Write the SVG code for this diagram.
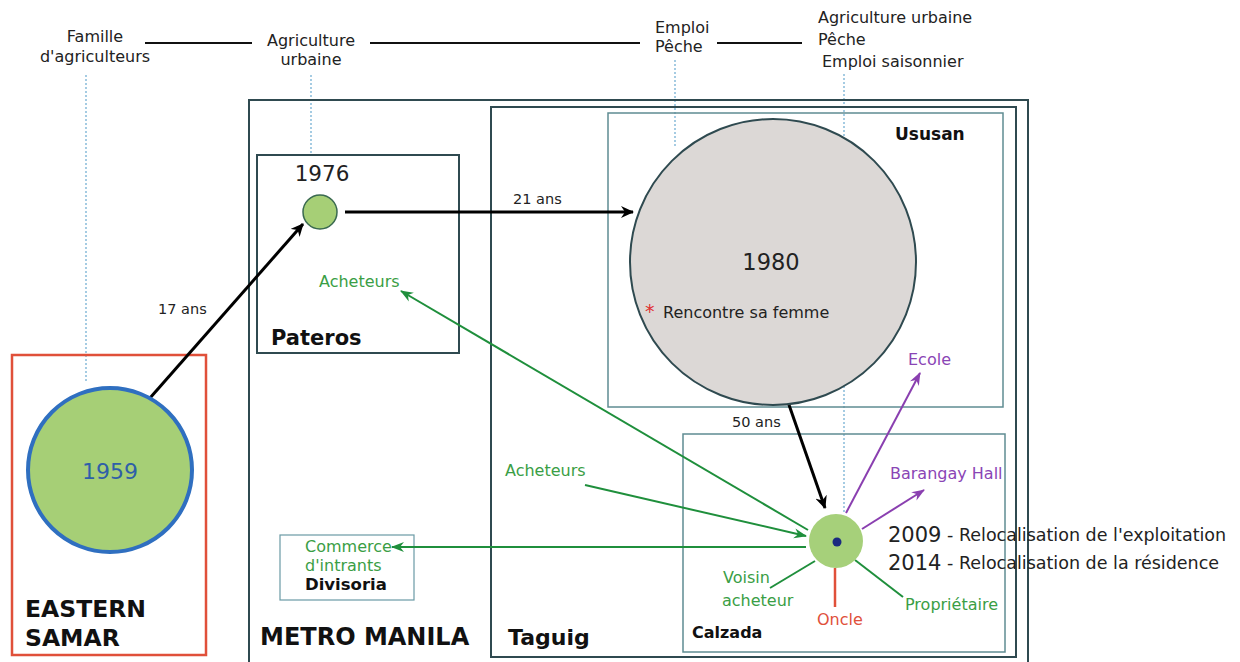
<svg xmlns="http://www.w3.org/2000/svg" width="1240" height="662" viewBox="0 0 1240 662">
<defs>
<marker id="ab" markerWidth="14" markerHeight="12" refX="12" refY="6" orient="auto" markerUnits="userSpaceOnUse"><path d="M0,0 L13,6 L0,12 L4,6 Z" fill="#000"/></marker>
<marker id="ag" markerWidth="14" markerHeight="12" refX="12" refY="6" orient="auto" markerUnits="userSpaceOnUse"><path d="M0,1 L13,6 L0,11 L4,6 Z" fill="#1f8f3c"/></marker>
<marker id="ap" markerWidth="14" markerHeight="12" refX="12" refY="6" orient="auto" markerUnits="userSpaceOnUse"><path d="M0,1 L13,6 L0,11 L4,6 Z" fill="#8a3fb0"/></marker>
</defs>
<style>
text{font-family:"DejaVu Sans","Liberation Sans",sans-serif;fill:#222}
.s{font-size:14.5px}
.m{font-size:16px}
.b{font-weight:bold;fill:#111}
.g{fill:#3a9e45}
.p{fill:#8a45b5}
.r{fill:#e0503a}
.box{fill:none;stroke:#2f4a50;stroke-width:2}
.box2{fill:none;stroke:#5f8c92;stroke-width:1.5}
.dot{fill:none;stroke:#6aaad0;stroke-width:1.2;stroke-dasharray:2 2}
.ln{stroke:#111;stroke-width:2;fill:none}
.k{stroke:#000;stroke-width:3;fill:none}
.gl{stroke:#1f8f3c;stroke-width:2;fill:none}
.pl{stroke:#8a3fb0;stroke-width:2;fill:none}
</style>
<rect width="1240" height="662" fill="#fff"/>

<g id="timeline">
<line class="ln" x1="145" y1="43" x2="252" y2="43"/>
<line class="ln" x1="370" y1="43" x2="640" y2="43"/>
<line class="ln" x1="717" y1="43" x2="802" y2="43"/>
<text class="m" x="95" y="42" text-anchor="middle">Famille</text>
<text class="m" x="95" y="62" text-anchor="middle">d'agriculteurs</text>
<text class="m" x="311" y="46" text-anchor="middle">Agriculture</text>
<text class="m" x="311" y="65" text-anchor="middle">urbaine</text>
<text class="m" x="655" y="33">Emploi</text>
<text class="m" x="655" y="52">Pêche</text>
<text class="m" x="818" y="23">Agriculture urbaine</text>
<text class="m" x="818" y="45">Pêche</text>
<text class="m" x="822" y="67">Emploi saisonnier</text>
<line class="dot" x1="86" y1="75" x2="86" y2="382"/>
<line class="dot" x1="311" y1="75" x2="311" y2="155"/>
<line class="dot" x1="675" y1="60" x2="675" y2="148"/>
<line class="dot" x1="844" y1="74" x2="844" y2="512"/>
</g>

<g id="metro-manila">
<rect class="box" x="249" y="100" width="779" height="565"/>
<text class="b" x="260" y="645" font-size="24">METRO MANILA</text>
</g>
<g id="taguig">
<rect class="box" x="491" y="107" width="525" height="550"/>
<text class="b" x="508" y="645" font-size="22">Taguig</text>
</g>
<g id="ususan">
<rect class="box2" x="608" y="113" width="395" height="294"/>
<text class="b" x="895" y="140" font-size="17">Ususan</text>
</g>
<g id="calzada">
<rect class="box2" x="683" y="434" width="322" height="218"/>
<text class="b" x="692" y="638" font-size="16">Calzada</text>
</g>
<g id="pateros">
<rect class="box" x="257" y="155" width="202" height="198"/>
<text class="b" x="271" y="345" font-size="21">Pateros</text>
<text class="m g" x="319" y="287">Acheteurs</text>
</g>
<g id="eastern-samar">
<rect x="12" y="355" width="194" height="300" fill="none" stroke="#e0503a" stroke-width="2.5"/>
<text class="b" x="25" y="617" font-size="23.5">EASTERN</text>
<text class="b" x="25" y="646" font-size="23.5">SAMAR</text>
</g>
<g id="divisoria">
<rect x="280" y="535" width="134" height="65" fill="none" stroke="#6a9aa5" stroke-width="1.2"/>
<text class="m g" x="305" y="552">Commerce</text>
<text class="m g" x="305" y="571">d'intrants</text>
<text class="b" x="305" y="590" font-size="16.5">Divisoria</text>
</g>

<g id="connectors">
<line class="k" x1="150" y1="398" x2="303" y2="224" marker-end="url(#ab)"/>
<line class="k" x1="345" y1="212" x2="633" y2="212" marker-end="url(#ab)"/>
<line class="k" x1="788" y1="402" x2="825" y2="508" marker-end="url(#ab)"/>
<line class="gl" x1="808" y1="530" x2="401" y2="291" marker-end="url(#ag)"/>
<line class="gl" x1="585" y1="485" x2="806" y2="536" marker-end="url(#ag)"/>
<line class="gl" x1="806" y1="547" x2="392" y2="547" marker-end="url(#ag)"/>
<line class="gl" x1="815" y1="561" x2="770" y2="588"/>
<line x1="835" y1="568" x2="835" y2="607" stroke="#e0503a" stroke-width="2.5"/>
<line class="gl" x1="855" y1="560" x2="903" y2="597"/>
<line class="pl" x1="846" y1="513" x2="920" y2="373" marker-end="url(#ap)"/>
<line class="pl" x1="862" y1="529" x2="924" y2="490" marker-end="url(#ap)"/>
<text class="s" x="158" y="314">17 ans</text>
<text class="s" x="513" y="204">21 ans</text>
<text class="s" x="732" y="427">50 ans</text>
<text class="m g" x="505" y="476">Acheteurs</text>
</g>

<g id="n1959">
<circle cx="110" cy="470" r="82" fill="#a6cf76" stroke="#2f6fc0" stroke-width="4"/>
<text x="110" y="479" text-anchor="middle" font-size="22" style="fill:#2f5fa8">1959</text>
</g>
<g id="n1976">
<circle cx="320" cy="212" r="17" fill="#a6cf76" stroke="#3a6a50" stroke-width="1.5"/>
<text x="322" y="181" text-anchor="middle" font-size="21.5">1976</text>
</g>
<g id="n1980">
<circle cx="773" cy="262" r="143" fill="#dcd8d6" stroke="#2f4a50" stroke-width="2"/>
<text x="771" y="270" text-anchor="middle" font-size="22.5">1980</text>
<text x="645" y="318" font-size="19" style="fill:#e03030">*</text>
<text class="m" x="663" y="318">Rencontre sa femme</text>
</g>
<g id="ncalzada">
<circle cx="836" cy="541" r="27" fill="#a6d07a"/>
<circle cx="837" cy="542" r="4.5" fill="#1a2a80"/>
</g>

<g id="labels">
<text class="m p" x="908" y="365">Ecole</text>
<text class="m p" x="890" y="479">Barangay Hall</text>
<text x="888" y="542" font-size="21">2009</text>
<text x="947" y="541" font-size="17.5">- Relocalisation de l'exploitation</text>
<text x="888" y="570" font-size="21">2014</text>
<text x="947" y="569" font-size="17.5">- Relocalisation de la résidence</text>
<text class="m g" x="723" y="583">Voisin</text>
<text class="m g" x="722" y="606">acheteur</text>
<text class="m r" x="817" y="625">Oncle</text>
<text class="m g" x="905" y="610">Propriétaire</text>
</g>
</svg>
